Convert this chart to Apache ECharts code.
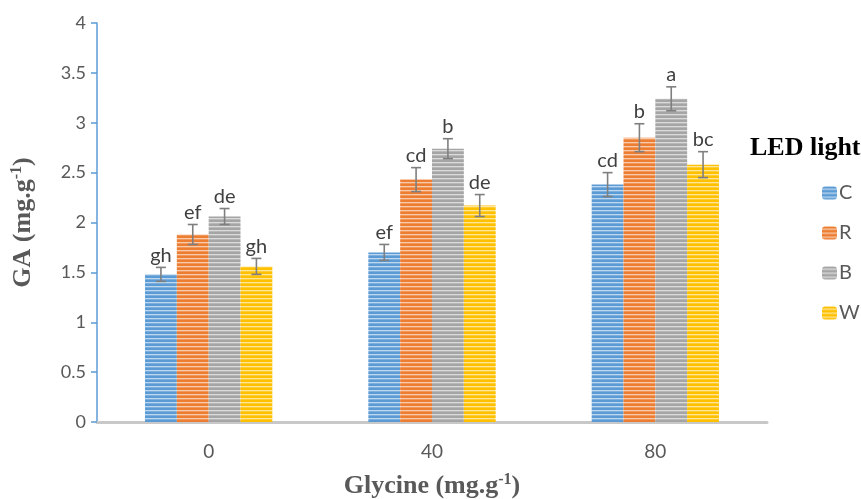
<!DOCTYPE html>
<html>
<head>
<meta charset="utf-8">
<script src="https://cdn.jsdelivr.net/npm/echarts@6/dist/echarts.min.js"></script>
<style>html,body{margin:0;padding:0;background:#fff;}#chart{width:861px;height:499px;}</style>
</head>
<body>
<div id="chart"></div>
<script>
const categories = ['0', '40', '80'];
const seriesNames = ['C', 'R', 'B', 'W'];
const valuesC = [1.48, 1.70, 2.38];
const valuesR = [1.88, 2.43, 2.85];
const valuesB = [2.06, 2.74, 3.24];
const valuesW = [1.56, 2.17, 2.58];
const errorsC = [0.07, 0.08, 0.12];
const errorsR = [0.10, 0.12, 0.14];
const errorsB = [0.08, 0.10, 0.12];
const errorsW = [0.08, 0.11, 0.13];
const lettersC = ['gh', 'ef', 'cd'];
const lettersR = ['ef', 'cd', 'b'];
const lettersB = ['de', 'b', 'a'];
const lettersW = ['gh', 'de', 'bc'];
const yTicks = [0, 0.5, 1, 1.5, 2, 2.5, 3, 3.5, 4];

const allValues = [valuesC, valuesR, valuesB, valuesW];
const allErrors = [errorsC, errorsR, errorsB, errorsW];
const allLetters = [lettersC, lettersR, lettersB, lettersW];
const colors = ['#5B9BD5', '#ED7D31', '#A5A5A5', '#FFC000'];
const catGap = 0.43;

function mix(hex, t) {
  const r = parseInt(hex.slice(1,3),16), g = parseInt(hex.slice(3,5),16), b = parseInt(hex.slice(5,7),16);
  const f = v => Math.round(v + (255 - v) * t);
  return 'rgb(' + f(r) + ',' + f(g) + ',' + f(b) + ')';
}
function stripe(hex) {
  const c = document.createElement('canvas');
  c.width = 4; c.height = 4;
  const ctx = c.getContext('2d');
  ctx.fillStyle = hex; ctx.fillRect(0, 0, 4, 2);
  ctx.fillStyle = mix(hex, 0.6); ctx.fillRect(0, 2, 4, 1);
  ctx.fillStyle = mix(hex, 0.2); ctx.fillRect(0, 3, 4, 1);
  return c;
}

const font = 'Lato, "Open Sans", sans-serif';
const serif = '"Liberation Serif", serif';
const series = [];
seriesNames.forEach((name, i) => {
  series.push({
    name: name,
    type: 'bar',
    data: allValues[i],
    barGap: '0%',
    barCategoryGap: (catGap * 100) + '%',
    itemStyle: { color: { image: stripe(colors[i]), repeat: 'repeat' } }
  });
});
seriesNames.forEach((name, i) => {
  series.push({
    type: 'custom',
    name: name + '_err',
    data: allValues[i].map((v, j) => [j, v, allErrors[i][j]]),
    encode: { x: 0, y: 1 },
    z: 5,
    silent: true,
    renderItem: function (params, api) {
      const idx = api.value(0);
      const v = api.value(1);
      const e = api.value(2);
      const letter = allLetters[i][idx];
      const band = api.size([1, 0])[0];
      const bw = band * (1 - catGap) / 4;
      const c = api.coord([idx, v]);
      const x = c[0] - 2 * bw + (i + 0.5) * bw;
      const top = api.coord([idx, v + e])[1];
      const bot = api.coord([idx, v - e])[1];
      const cap = 5;
      const st = { stroke: '#7F7F7F', lineWidth: 1.6 };
      return {
        type: 'group',
        children: [
          { type: 'line', shape: { x1: x, y1: top, x2: x, y2: bot }, style: st },
          { type: 'line', shape: { x1: x - cap, y1: top, x2: x + cap, y2: top }, style: st },
          { type: 'line', shape: { x1: x - cap, y1: bot, x2: x + cap, y2: bot }, style: st },
          { type: 'text', x: x, y: top - 2, style: { text: letter, fill: '#404040', font: '20px ' + font, textAlign: 'center', textVerticalAlign: 'bottom' } }
        ]
      };
    }
  });
});

const supStyle = { fontFamily: serif, fontWeight: 'bold', fontSize: 16, color: '#595959', verticalAlign: 'top', padding: [0, 0, 12, 0] };
const chart = echarts.init(document.getElementById('chart'));
chart.setOption({
  animation: false,
  backgroundColor: '#fff',
  grid: { left: 97, right: 94, top: 23, bottom: 77, outerBoundsMode: 'none', containLabel: false },
  title: {
    text: 'LED light', left: 745, top: 130,
    textStyle: { fontFamily: serif, fontWeight: 'bold', fontSize: 26, color: '#000' }
  },
  legend: {
    orient: 'vertical', left: 817, top: 178,
    itemWidth: 15, itemHeight: 13, itemGap: 20,
    data: seriesNames,
    textStyle: { fontFamily: font, fontSize: 20, lineHeight: 20, color: '#595959', padding: [0,0,0,-3] }
  },
  xAxis: {
    type: 'category', data: categories,
    axisLine: { lineStyle: { color: '#C8C8C8', width: 3 } },
    axisTick: { show: false },
    axisLabel: { fontFamily: font, fontSize: 19, color: '#595959', margin: 20 },
    name: 'Glycine (mg.g{sup|-1})',
    nameLocation: 'middle', nameGap: 50,
    nameTextStyle: {
      fontFamily: serif, fontWeight: 'bold', fontSize: 26, color: '#595959',
      rich: { sup: supStyle }
    }
  },
  yAxis: {
    type: 'value', min: 0, max: 4, interval: 0.5,
    axisLine: { show: true, lineStyle: { color: '#5B9BD5', width: 1.5 } },
    axisTick: { show: true, length: 6, lineStyle: { color: '#5B9BD5', width: 1.5 } },
    splitLine: { show: false },
    axisLabel: { fontFamily: font, fontSize: 18, color: '#595959', margin: 11,
      formatter: v => yTicks.indexOf(v) >= 0 ? String(v) : '' },
    name: 'GA (mg.g{sup|-1})',
    nameLocation: 'middle', nameGap: 60, nameRotate: 90,
    nameTextStyle: {
      fontFamily: serif, fontWeight: 'bold', fontSize: 26, color: '#595959',
      rich: { sup: supStyle }
    }
  },
  series: series
});
</script>
</body>
</html>
